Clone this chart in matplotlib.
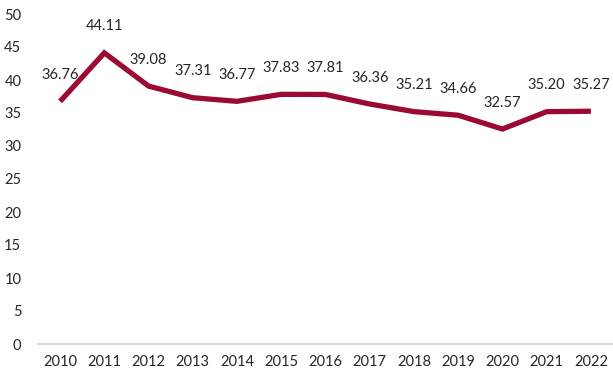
import matplotlib
matplotlib.use("Agg")
import matplotlib.pyplot as plt

years = ["2010", "2011", "2012", "2013", "2014", "2015", "2016",
         "2017", "2018", "2019", "2020", "2021", "2022"]
values = [36.76, 44.11, 39.08, 37.31, 36.77, 37.83, 37.81,
          36.36, 35.21, 34.66, 32.57, 35.20, 35.27]
yticks = [0, 5, 10, 15, 20, 25, 30, 35, 40, 45, 50]

plt.rcParams['font.family'] = ['Lato', 'DejaVu Sans']

fig = plt.figure(figsize=(6.13, 3.74), dpi=100)
ax = fig.add_axes([38 / 613, 30 / 374, 575 / 613, 330 / 374])

x = list(range(len(years)))
ax.plot(x, values, color='#9B0A33', linewidth=3.8, solid_capstyle='butt',
        solid_joinstyle='miter')

# value labels above each point
for xi, v in zip(x, values):
    ax.annotate(f"{v:.2f}", xy=(xi, v), xytext=(0, 19), textcoords='offset points',
                ha='center', va='center', fontsize=10.5, color='#262626')

ax.set_xlim(-0.5, len(years) - 0.5)
ax.set_ylim(0, 50)
ax.set_xticks(x)
ax.set_xticklabels(years)
ax.set_yticks(yticks)

for side in ['top', 'right', 'left']:
    ax.spines[side].set_visible(False)
ax.spines['bottom'].set_color('#D9D9D9')
ax.spines['bottom'].set_linewidth(1.5)
ax.tick_params(axis='both', length=0, labelsize=10.5, labelcolor='#262626')
ax.tick_params(axis='x', pad=8)
ax.tick_params(axis='y', pad=12)

fig.savefig("out.png", dpi=100)
